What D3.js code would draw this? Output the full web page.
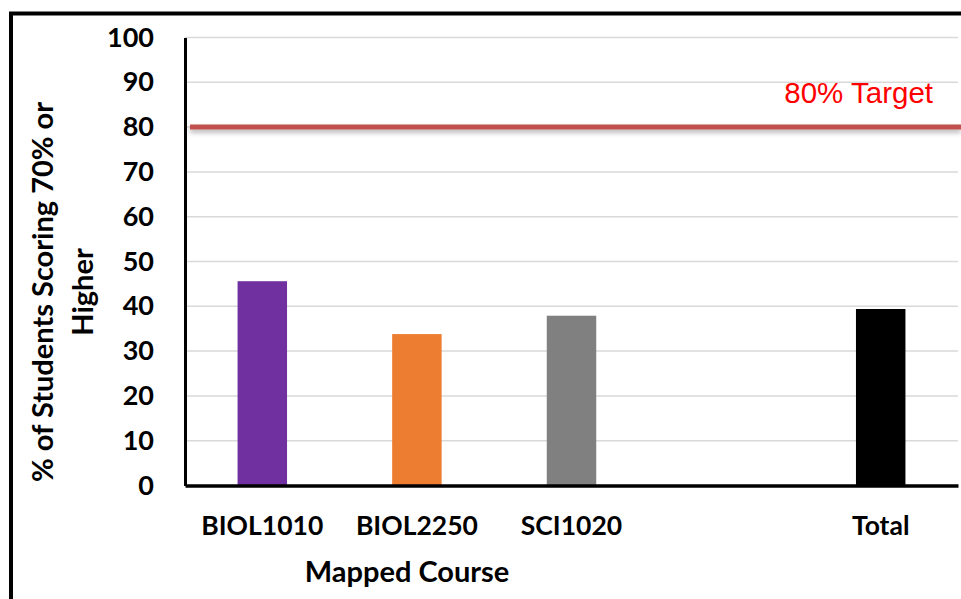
<!DOCTYPE html>
<html>
<head>
<meta charset="utf-8">
<script src="https://cdn.jsdelivr.net/npm/d3@7"></script>
<style>
    body { margin: 0; background: #fff; }
</style>
</head>
<body>
<svg id="chart" width="961" height="599"></svg>
<script>
// chart data
const categories = ["BIOL1010", "BIOL2250", "SCI1020", "", "Total"];
const values = [45.6, 33.8, 37.9, null, 39.4];
const barColors = ["#7030A0", "#ED7D31", "#808080", "none", "#000000"];
const yTicks = [0, 10, 20, 30, 40, 50, 60, 70, 80, 90, 100];
const targetValue = 80;
const targetLabel = "80% Target";

const BOLD_FONT = "Lato, 'Open Sans', sans-serif";

const svg = d3.select("#chart");
const margin = { left: 185, top: 37.5, right: 958, bottom: 485.5 };

let x = d3.scaleBand()
    .domain(categories.map((c, i) => i))
    .range([margin.left, margin.right])
    .paddingInner(0.68)
    .paddingOuter(0.34);

let y = d3.scaleLinear()
    .domain([0, 100])
    .range([margin.bottom, margin.top]);

// drop shadow for the target line
let defs = svg.append("defs");
let shadow = defs.append("filter")
    .attr("id", "shadow")
    .attr("filterUnits", "userSpaceOnUse")
    .attr("x", 0).attr("y", 0)
    .attr("width", 961).attr("height", 599);
shadow.append("feDropShadow")
    .attr("dx", 0).attr("dy", 3)
    .attr("stdDeviation", 2.5)
    .attr("flood-color", "#000")
    .attr("flood-opacity", 0.3);

// outer frame (runs off the right and bottom edges)
svg.append("rect")
    .attr("x", 11).attr("y", 13.5)
    .attr("width", 1000).attr("height", 1000)
    .attr("fill", "none")
    .attr("stroke", "#000")
    .attr("stroke-width", 4);

// gridlines
svg.append("g")
    .selectAll("line")
    .data(yTicks.filter(t => t > 0))
    .join("line")
    .attr("x1", margin.left)
    .attr("x2", margin.right)
    .attr("y1", d => y(d))
    .attr("y2", d => y(d))
    .attr("stroke", "#d9d9d9")
    .attr("stroke-width", 1.5);

// bars
svg.append("g")
    .selectAll("rect")
    .data(values.map((v, i) => ({ v, i })).filter(d => d.v !== null))
    .join("rect")
    .attr("x", d => x(d.i))
    .attr("width", x.bandwidth())
    .attr("y", d => y(d.v))
    .attr("height", d => y(0) - y(d.v))
    .attr("fill", d => barColors[d.i]);

// y axis
let yAxis = svg.append("g")
    .attr("transform", `translate(${margin.left},0)`)
    .call(d3.axisLeft(y).tickValues(yTicks).tickSize(0).tickPadding(31));
yAxis.select(".domain")
    .attr("stroke", "#000")
    .attr("stroke-width", 3);
yAxis.selectAll("text")
    .attr("font-size", 27)
    .attr("font-weight", "bold")
    .attr("fill", "#000")
    .attr("font-family", BOLD_FONT);

// x axis
let xAxis = svg.append("g")
    .attr("transform", `translate(0,${margin.bottom})`)
    .call(d3.axisBottom(x).tickFormat(i => categories[i]).tickSize(0).tickPadding(31));
xAxis.select(".domain")
    .attr("stroke", "#000")
    .attr("stroke-width", 3.5);
xAxis.selectAll("text")
    .attr("font-size", 26.5)
    .attr("font-weight", "bold")
    .attr("fill", "#000")
    .attr("font-family", BOLD_FONT);

// target line
svg.append("line")
    .attr("x1", 190)
    .attr("x2", 961)
    .attr("y1", y(targetValue))
    .attr("y2", y(targetValue))
    .attr("stroke", "#C0504D")
    .attr("stroke-width", 5)
    .attr("filter", "url(#shadow)");

svg.append("text")
    .attr("x", 933)
    .attr("y", y(targetValue) - 24)
    .attr("text-anchor", "end")
    .attr("font-family", "'Liberation Sans', Arial, sans-serif")
    .attr("font-size", 29.5)
    .attr("fill", "#FF0000")
    .text(targetLabel);

// axis titles
svg.append("text")
    .attr("x", 407)
    .attr("y", 582)
    .attr("text-anchor", "middle")
    .attr("font-family", BOLD_FONT)
    .attr("font-size", 29)
    .attr("font-weight", "bold")
    .text("Mapped Course");

let yTitle = svg.append("text")
    .attr("transform", "translate(0,292) rotate(-90)")
    .attr("text-anchor", "middle")
    .attr("font-family", BOLD_FONT)
    .attr("font-size", 29)
    .attr("font-weight", "bold");
yTitle.append("tspan").attr("x", 0).attr("y", 53).text("% of Students Scoring 70% or");
yTitle.append("tspan").attr("x", 0).attr("y", 93).text("Higher");
</script>
</body>
</html>
